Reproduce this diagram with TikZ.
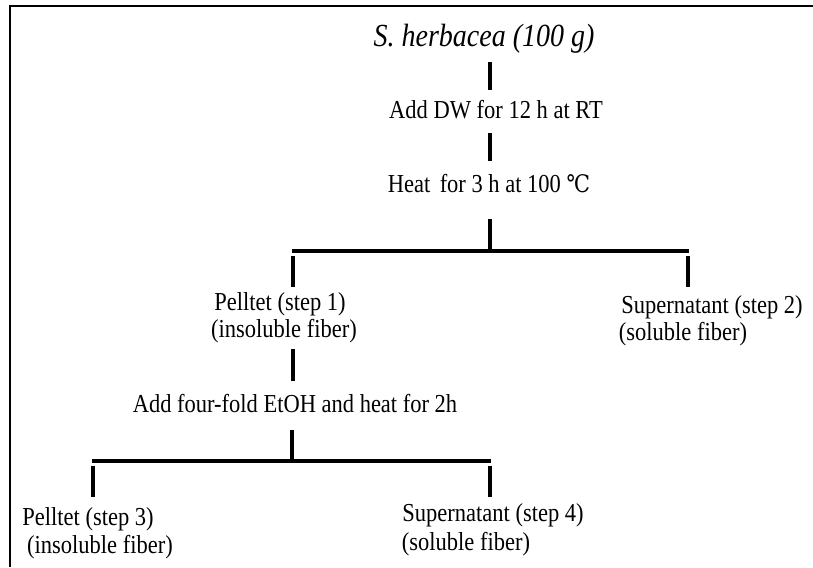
\documentclass[tikz,border=0pt]{standalone}
\usepackage{graphicx}
\usepackage{fontspec}
\setmainfont{Liberation Serif}
\newfontfamily\symfont{DejaVu Serif}
\newcommand\tallt[1]{\scalebox{1}[1.15]{#1}}
\begin{document}
\begin{tikzpicture}[x=1pt,y=-1pt,
  lbl/.style={inner sep=0pt, font=\fontsize{22.5}{27}\selectfont},
  ttl/.style={inner sep=0pt, font=\fontsize{28}{33}\selectfont\itshape},
  ln/.style={line width=3.4pt},
  frame/.style={line width=2.8pt}]
\useasboundingbox (0,0) rectangle (813,567);
% frame
\coordinate (fb) at (10,567);
\coordinate (fc) at (10,6);
\coordinate (fr) at (813,6);
\draw[frame] (fb) -- (fc) -- (fr);
% texts
\node[ttl] (title) at (484,39) {\tallt{S. herbacea (100 g)}};
\node[lbl] (adddw) at (496,110) {\tallt{Add DW for 12 h at RT}};
\node[lbl] (heat) at (489,184) {\tallt{Heat\, for 3 h at 100 {\symfont\fontsize{21}{25}\selectfont ℃}}};
\node[lbl] (p1a) at (280,304) {\tallt{Pelltet (step 1)}};
\node[lbl] (p1b) at (284,331) {\tallt{(insoluble fiber)}};
\node[lbl] (s2a) at (712,307) {\tallt{Supernatant (step 2)}};
\node[lbl] (s2b) at (683,334) {\tallt{(soluble fiber)}};
\node[lbl] (etoh) at (295,404) {\tallt{Add four-fold EtOH and heat for 2h}};
\node[lbl] (p3a) at (88,519) {\tallt{Pelltet (step 3)}};
\node[lbl] (p3b) at (100,547) {\tallt{(insoluble fiber)}};
\node[lbl] (s4a) at (493,515) {\tallt{Supernatant (step 4)}};
\node[lbl] (s4b) at (466,544) {\tallt{(soluble fiber)}};
% connector points
\coordinate (a1) at (490,62);  \coordinate (a2) at (490,90);
\coordinate (b1) at (490,133); \coordinate (b2) at (490,161);
\coordinate (c1) at (490,219); \coordinate (c2) at (490,251);
\coordinate (hL) at (292,251); \coordinate (hR) at (689,251);
\coordinate (vL1) at (293,256); \coordinate (vL2) at (293,287);
\coordinate (vR1) at (688,256); \coordinate (vR2) at (688,287);
\coordinate (d1) at (293,349); \coordinate (d2) at (293,381);
\coordinate (e1) at (292,430); \coordinate (e2) at (292,461);
\coordinate (gL) at (92,461);  \coordinate (gR) at (491,461);
\coordinate (wL1) at (93,466); \coordinate (wL2) at (93,497);
\coordinate (wR1) at (490,466); \coordinate (wR2) at (490,497);
% connectors
\draw[ln] (a1) -- (a2);
\draw[ln] (b1) -- (b2);
\draw[ln] (c1) -- (c2);
\draw[ln] (hL) -- (hR);
\draw[ln] (vL1) -- (vL2);
\draw[ln] (vR1) -- (vR2);
\draw[ln] (d1) -- (d2);
\draw[ln] (e1) -- (e2);
\draw[ln] (gL) -- (gR);
\draw[ln] (wL1) -- (wL2);
\draw[ln] (wR1) -- (wR2);
\end{tikzpicture}
\end{document}
